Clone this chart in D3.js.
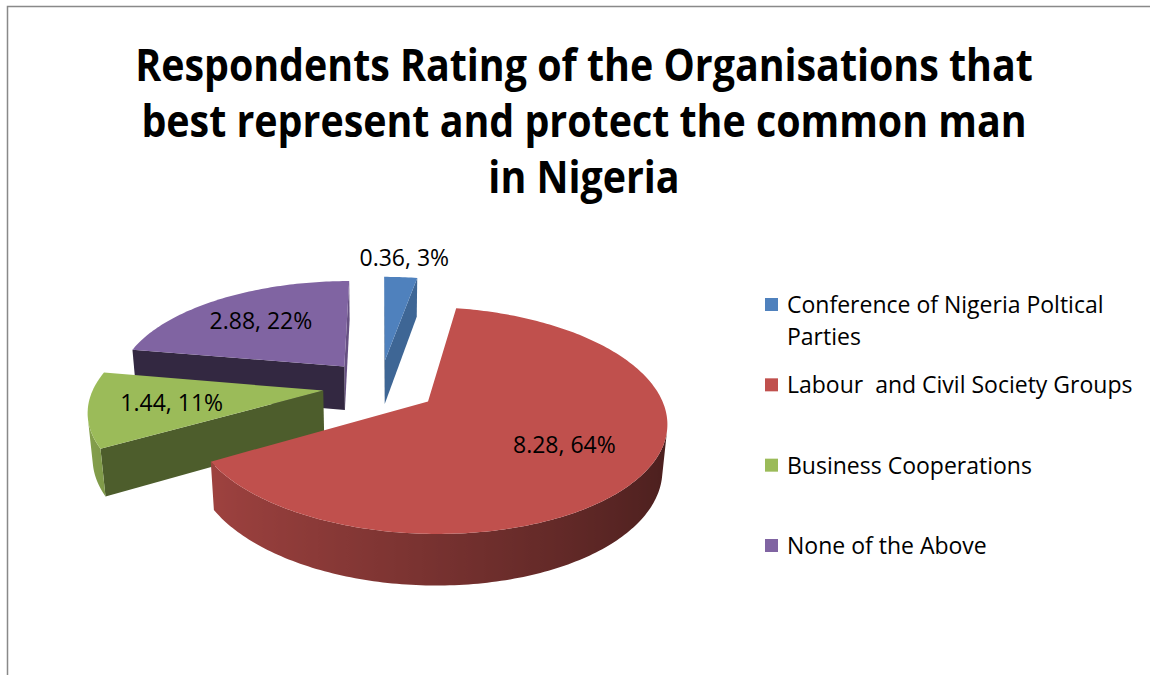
<!DOCTYPE html>
<html>
<head>
<meta charset="utf-8">
<script src="https://cdn.jsdelivr.net/npm/d3@7"></script>
<style>
  body { margin: 0; background: #fff; }
  text { font-family: 'Open Sans', sans-serif; fill: #000; }
</style>
</head>
<body>
<script>
// organisations rated by respondents
var categories = ['Conference of Nigeria Poltical Parties', 'Labour  and Civil Society Groups', 'Business Cooperations', 'None of the Above'];
var values = [0.36, 8.28, 1.44, 2.88];
var colors = ['#4F81BD', '#C0504D', '#9BBB59', '#8064A2'];
var titleLines = ['Respondents Rating of the Organisations that', 'best represent and protect the common man', 'in Nigeria'];

var width = 1150, height = 675;
var svg = d3.select('body').append('svg')
    .attr('width', width)
    .attr('height', height);
var defs = svg.append('defs');

// chart frame (only top and left edges fall inside the window)
svg.append('rect')
    .attr('x', 7.5).attr('y', 6.5)
    .attr('width', 1300).attr('height', 800)
    .attr('fill', 'none')
    .attr('stroke', '#898989')
    .attr('stroke-width', 1.5);

// title, narrowed a bit so the first line is 898px wide
var title = svg.append('g').attr('class', 'title');
var titleText = title.selectAll('text')
    .data(titleLines)
    .enter()
    .append('text')
    .attr('x', 0)
    .attr('y', 0)
    .attr('text-anchor', 'middle')
    .style('font-size', '45px')
    .style('font-weight', 'bold')
    .text(d => d);
var squeeze = 898 / titleText.node().getComputedTextLength();
titleText.attr('transform', (d, i) => 'translate(584,' + (81 + i * 56) + ') scale(' + squeeze + ',1)');

// ---- 3d pie ----
var view = {cx: 380, cy: 386, sx: 229, sy: 240, tilt: 26 * Math.PI / 180, dist: 5.5, thick: 0.21, explode: 0.25};
var cosT = Math.cos(view.tilt), sinT = Math.sin(view.tilt);
var cam = [0, -view.dist * cosT, view.dist * sinT];

function depthOf(p){ return view.dist + p[1] * cosT - p[2] * sinT; }
function project(p){
    var f = view.dist / depthOf(p);
    return [view.cx + view.sx * p[0] * f, view.cy - view.sy * (p[1] * sinT + p[2] * cosT) * f];
}
function shade(c, k){
    var r = d3.rgb(c);
    return d3.rgb(r.r * k, r.g * k, r.b * k).formatHex();
}
function centroid(pts){
    return [d3.mean(pts, p => p[0]), d3.mean(pts, p => p[1]), d3.mean(pts, p => p[2])];
}
function facing(pts, n){
    var c = centroid(pts);
    return (cam[0] - c[0]) * n[0] + (cam[1] - c[1]) * n[1] + (cam[2] - c[2]) * n[2] > 0;
}

var total = d3.sum(values);
var arcs = d3.pie().sort(null).value(d => d).startAngle(0).endAngle(2 * Math.PI)(values);
var line = d3.line().curve(d3.curveLinearClosed);

var slices = arcs.map(function(a, i){
    var mid = (a.startAngle + a.endAngle) / 2;
    var off = [view.explode * Math.sin(mid), view.explode * Math.cos(mid)];
    var pt = (t, r, z) => [off[0] + r * Math.sin(t), off[1] + r * Math.cos(t), z];
    var n = Math.max(2, Math.ceil((a.endAngle - a.startAngle) / (Math.PI / 180)));
    var ang = d3.range(n + 1).map(k => a.startAngle + (a.endAngle - a.startAngle) * k / n);
    var zb = -view.thick;
    var faces = [];

    // outer curved side: visible runs of segments become one shape with a gradient
    var run = null;
    for (var k = 0; k < n; k++) {
        var q = [pt(ang[k], 1, 0), pt(ang[k + 1], 1, 0), pt(ang[k + 1], 1, zb), pt(ang[k], 1, zb)];
        var tm = (ang[k] + ang[k + 1]) / 2;
        var nrm = [Math.sin(tm), Math.cos(tm), 0];
        if (facing(q, nrm)) {
            if (!run) { run = {angles: [ang[k]], curved: true}; faces.push(run); }
            run.angles.push(ang[k + 1]);
        } else {
            run = null;
        }
    }
    faces.filter(f => f.curved).forEach(function(f){
        var topPts = f.angles.map(t => pt(t, 1, 0));
        var botPts = f.angles.map(t => pt(t, 1, zb)).reverse();
        f.pts = topPts.concat(botPts);
        var gid = 'side' + i + '_' + Math.round(f.angles[0] * 1000);
        var xs = f.angles.map(t => project(pt(t, 1, zb))[0]);
        var x0 = d3.min(xs), x1 = d3.max(xs);
        var grad = defs.append('linearGradient')
            .attr('id', gid)
            .attr('gradientUnits', 'userSpaceOnUse')
            .attr('x1', x0).attr('x2', x1).attr('y1', 0).attr('y2', 0);
        var stops = f.angles.map((t, k) => ({x: xs[k], c: shade(colors[i], 0.62 - 0.23 * Math.sin(t))}))
            .sort((p, q) => p.x - q.x);
        grad.selectAll('stop')
            .data(stops)
            .enter()
            .append('stop')
            .attr('offset', s => x1 > x0 ? (s.x - x0) / (x1 - x0) : 0)
            .attr('stop-color', s => s.c);
        f.fill = 'url(#' + gid + ')';
    });

    // radial cut faces
    [[a.startAngle, a.startAngle - Math.PI / 2], [a.endAngle, a.endAngle + Math.PI / 2]].forEach(function(s){
        var q = [pt(0, 0, 0), pt(s[0], 1, 0), pt(s[0], 1, zb), pt(0, 0, zb)];
        var nrm = [Math.sin(s[1]), Math.cos(s[1]), 0];
        var lit = Math.max(0, Math.sin(s[1]));
        if (facing(q, nrm)) faces.push({pts: q, fill: shade(colors[i], 0.4 + 0.4 * lit * lit)});
    });
    faces.forEach(f => f.depth = depthOf(centroid(f.pts)));
    faces.sort((p, q) => q.depth - p.depth);

    var top = [pt(0, 0, 0)].concat(ang.map(t => pt(t, 1, 0)));
    var lr = (a.value / total < 0.05) ? 1.27 : 0.65;
    return {
        index: i,
        faces: faces,
        top: top,
        depth: depthOf(centroid(top)),
        label: project(pt(mid, lr, 0)),
        text: d3.format('.2f')(a.value) + ', ' + Math.round(a.value / total * 100) + '%'
    };
});

slices.sort((p, q) => q.depth - p.depth);

var pieG = svg.append('g').attr('class', 'pie');
slices.forEach(function(s){
    var g = pieG.append('g');
    g.selectAll('path.side')
        .data(s.faces)
        .enter()
        .append('path')
        .attr('class', 'side')
        .attr('d', f => line(f.pts.map(project)))
        .attr('fill', f => f.fill);
    g.append('path')
        .attr('d', line(s.top.map(project)))
        .attr('fill', colors[s.index]);
});

svg.append('g').selectAll('text')
    .data(slices)
    .enter()
    .append('text')
    .attr('x', d => d.label[0])
    .attr('y', d => d.label[1])
    .attr('dy', '0.35em')
    .attr('text-anchor', 'middle')
    .style('font-size', '23px')
    .text(d => d.text);

// ---- legend ----
var legendY = d3.scaleLinear().domain([0, 3]).range([313, 554]);
var legend = svg.append('g').attr('class', 'legend');
var item = legend.selectAll('g')
    .data(categories)
    .enter()
    .append('g')
    .attr('transform', (d, i) => 'translate(765,' + legendY(i) + ')');

item.append('rect')
    .attr('x', 0).attr('y', -15)
    .attr('width', 13).attr('height', 13)
    .attr('fill', (d, i) => colors[i]);

item.append('text')
    .attr('x', 22)
    .style('font-size', '23px')
    .style('white-space', 'pre')
    .each(function(d){
        // wrap long names into lines of at most 360px
        var el = d3.select(this);
        var words = d.split(' ');
        var lines = [], cur = '';
        var probe = el.append('tspan');
        words.forEach(function(w){
            var next = cur === '' ? w : cur + ' ' + w;
            probe.text(next);
            if (cur !== '' && probe.node().getComputedTextLength() > 360) {
                lines.push(cur);
                cur = w;
            } else {
                cur = next;
            }
        });
        lines.push(cur);
        probe.remove();
        el.selectAll('tspan')
            .data(lines)
            .enter()
            .append('tspan')
            .attr('x', 22)
            .attr('dy', (l, k) => k ? 32 : 0)
            .text(l => l);
    });
</script>
</body>
</html>
